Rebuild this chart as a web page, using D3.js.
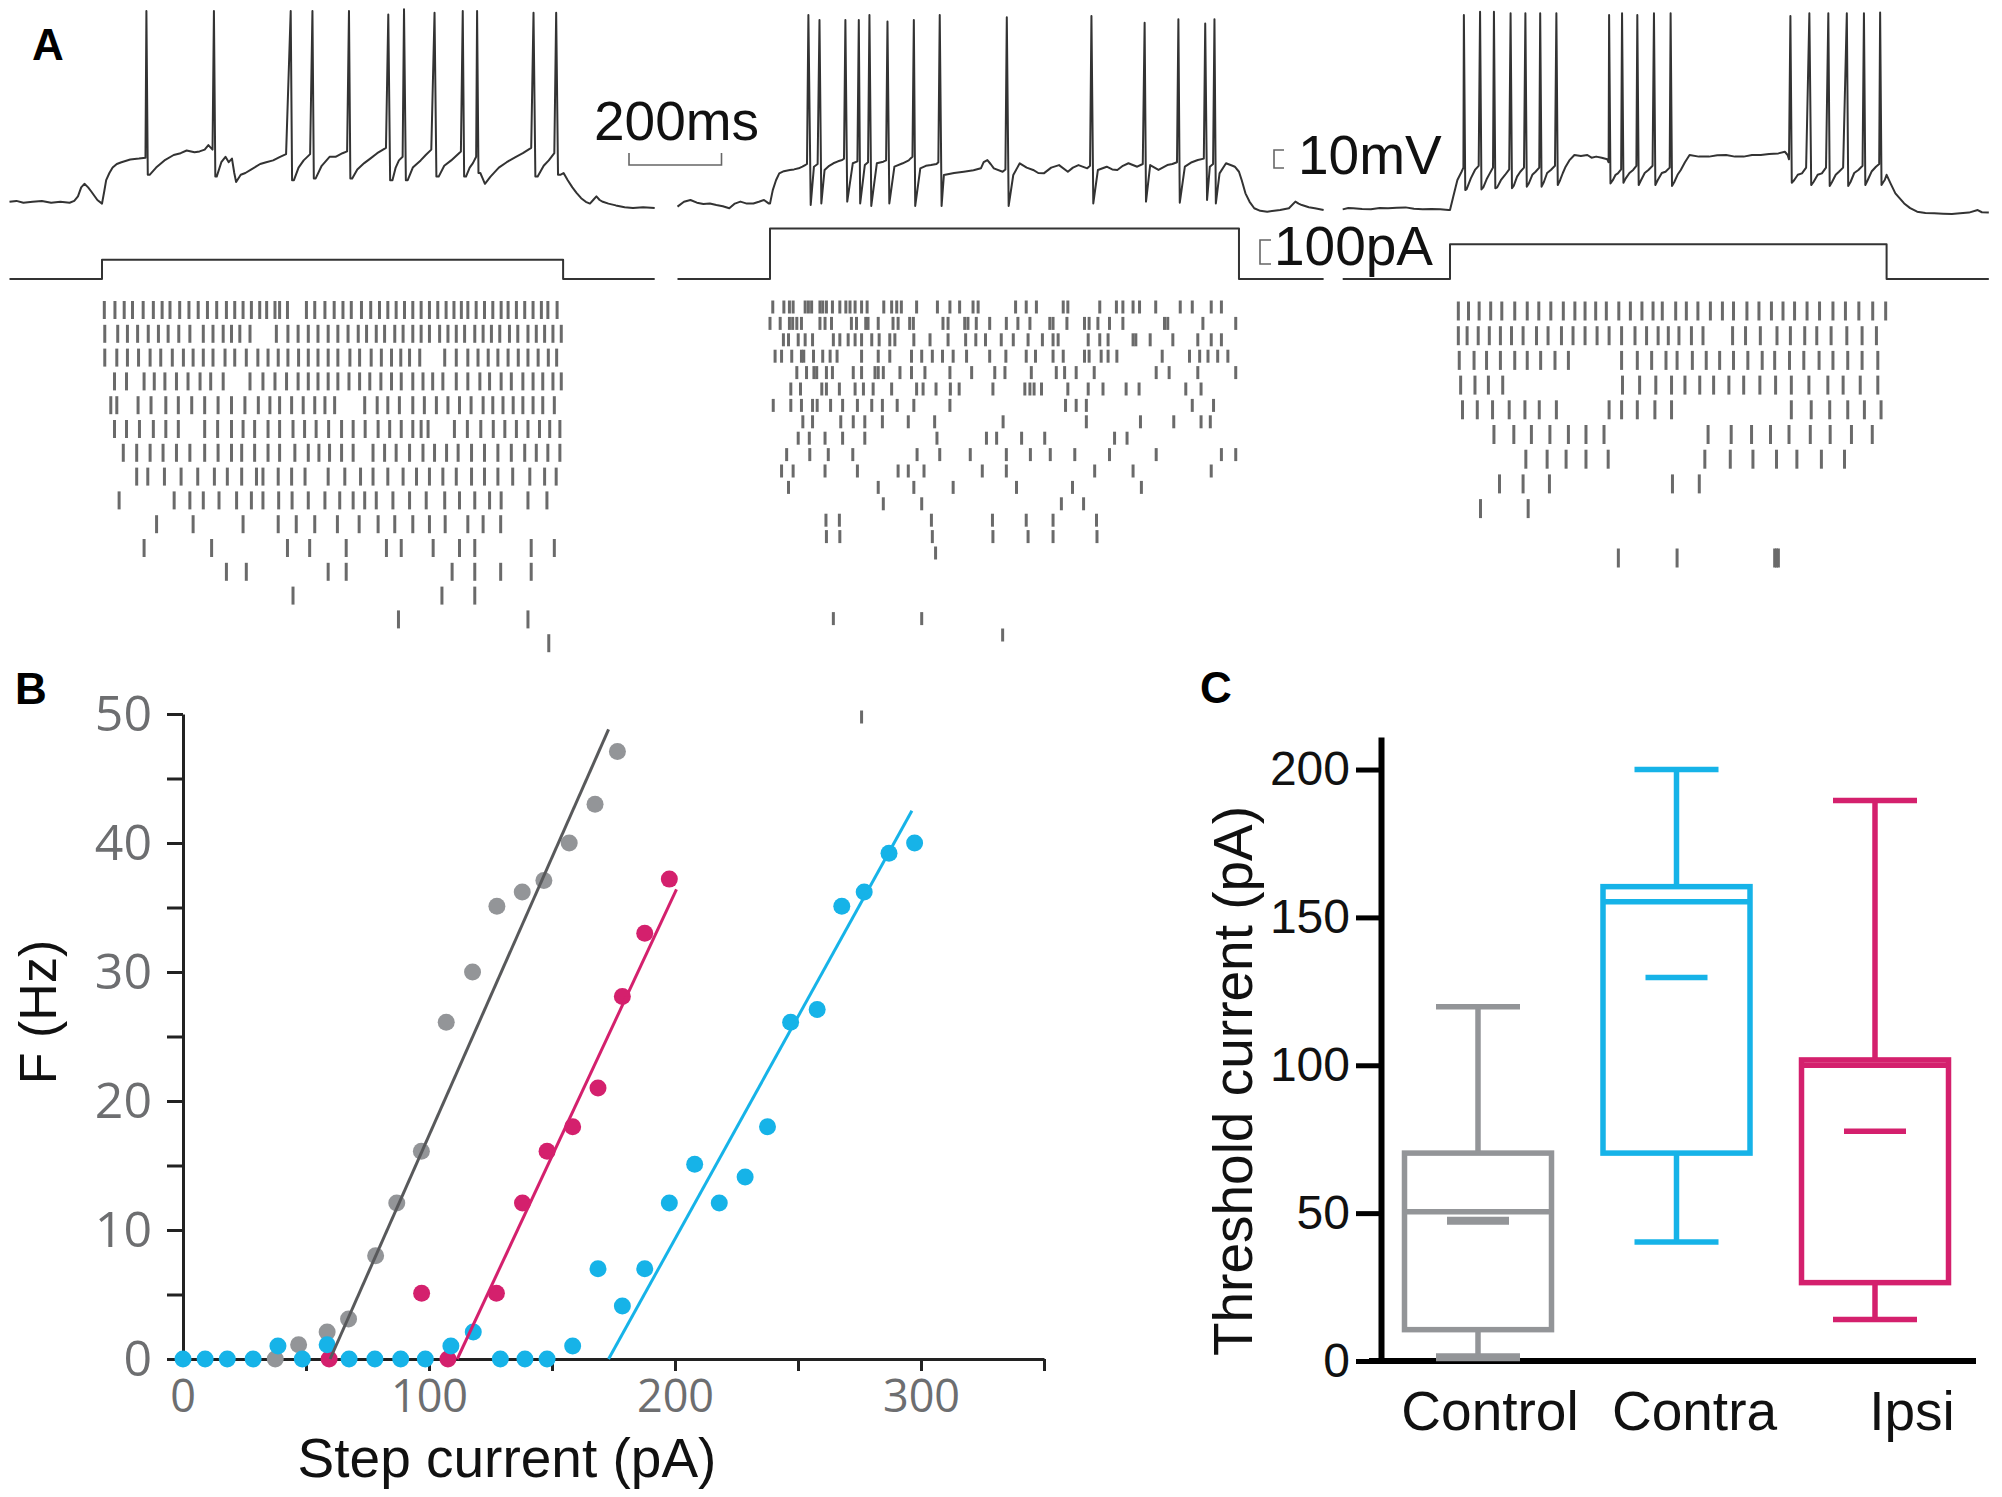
<!DOCTYPE html>
<html lang="en">
<head>
<meta charset="UTF-8">
<title>Firing of spinal neurons</title>
<script src="https://d3js.org/d3.v7.min.js"></script>
<style>
  body { margin: 0; background: #fff; }
  svg { display: block; font-family: "Liberation Sans", Arial, sans-serif; }
  .trace { fill: none; stroke: #333; stroke-width: 2; stroke-linejoin: round; }
  .spike { stroke: #6a6a6a; stroke-width: 3; }
  .panel-label { font-weight: bold; font-size: 44px; fill: #000; }
  .bar { fill: none; stroke: #666; stroke-width: 1.6; }
  .big { font-size: 55px; fill: #111; }
  .fi-axis text { font-family: "Open Sans", sans-serif; fill: #6d6e70; }
  .fi-axis line, .fi-axis path { stroke: #222; stroke-width: 3; }
  .th-axis text { fill: #111; font-size: 48px; }
  .th-axis line { stroke: #000; stroke-width: 5; }
</style>
</head>
<body>
<script>
// ---------- A: voltage traces (ms from step onset, mV) ----------
var trace1Vm = [[-200,-66],[-185,-65.5],[-170,-66.5],[-150,-66],[-130,-65.5],[-110,-66.5],[-90,-66],[-70,-66.5],[-60,-65.5],[-52,-63],[-45,-58],[-38,-56],[-30,-58],[-24,-60],[-10,-65],[0,-67],[5,-60],[9,-54],[16,-50],[23,-47],[32,-45],[42,-44],[61,-42.5],[80,-42],[94,-41.5],[96,40],[99,-51],[103,-51],[117,-47],[135,-43],[155,-40],[170,-39],[183,-37.5],[200,-38.5],[211,-38],[222,-37],[230,-34.5],[239,-37],[242,40],[245,-52],[248,-52],[258,-44],[267,-41],[274,-44],[281,-42],[286,-50],[290,-55],[300,-51],[310,-50],[323,-48],[342,-45],[355,-44],[370,-43],[385,-41],[398,-39.5],[408,40],[411,-54],[415,-54],[425,-47],[436,-43],[450,-39.5],[455,40],[458,-53],[462,-53],[475,-46],[492,-41],[505,-41],[520,-39],[530,-38],[534,40],[537,-53],[541,-53],[552,-48],[567,-44.5],[580,-42],[595,-39],[614,-36],[619,38],[623,-54],[628,-54],[635,-47],[642,-43],[650,-41],[653,41],[657,-54],[661,-54],[672,-47],[689,-43],[700,-40],[712,-37],[719,39],[723,-52],[728,-52],[740,-46],[755,-43],[776,-38],[780,40],[783,-52],[787,-52],[795,-47],[802,-44.5],[809,-41],[811,40],[814,-50],[818,-50],[823,-53],[828,-56],[840,-52],[858,-47],[875,-44],[895,-41],[910,-39],[928,-36],[933,39],[937,-52],[942,-52],[955,-46],[966,-43],[978,-39],[982,39],[986,-51],[991,-51],[998,-50],[1007,-54],[1017,-58],[1026,-61],[1036,-64],[1046,-66],[1055,-67],[1062,-65],[1069,-63],[1076,-65],[1083,-66],[1095,-67],[1111,-68],[1130,-69],[1148,-69.5],[1170,-69],[1195,-69.5]];

var trace2Vm = [[-200,-68.7],[-186,-66],[-172,-65],[-158,-66.5],[-144,-67.2],[-130,-67],[-116,-67.8],[-102,-68.5],[-88,-69.6],[-76,-67],[-64,-65.9],[-50,-67],[-36,-66.9],[-24,-66],[-13,-65],[-3,-66.9],[0,-67],[6,-59.5],[13,-54],[20,-50.2],[30,-49],[43,-48.3],[52,-48],[62,-47.4],[70,-46.5],[76,-45.6],[80,-45],[83,37.8],[88,-67.8],[95,-46.5],[103,-45],[107,35],[111,-66.9],[118,-48.3],[128,-46],[137,-44.6],[147,-43.5],[156,-42.8],[160,-42],[163,35],[167,-65.9],[179,-44.6],[189,-43.5],[192,35],[195,-66.9],[205,-45.6],[212,-44],[215,37.8],[219,-68.3],[231,-44.6],[245,-43.7],[251,-43],[254,34.1],[258,-66.9],[269,-46.5],[287,-44.6],[300,-43],[304,-41.9],[308,-41],[311,35],[314,-68.3],[325,-47.4],[337,-46],[348,-45.6],[360,-45],[364,-44],[367,37.8],[371,-68.3],[376,-51.1],[398,-50],[419,-49.3],[440,-48.5],[456,-47.4],[462,-44],[470,-42.8],[477,-45],[484,-47.4],[503,-49.3],[509,-48],[512,36.5],[516,-68.3],[526,-51.1],[540,-44.6],[555,-47],[569,-48.3],[580,-50],[592,-50.2],[608,-47],[625,-45.6],[644,-49.3],[655,-47],[667,-45.6],[686,-47.4],[692,-46],[695,37.2],[699,-66.9],[709,-48.3],[728,-46.5],[740,-48],[751,-48.3],[763,-46],[775,-44.6],[794,-46.5],[806,-45],[810,33.5],[813,-65.9],[822,-45.6],[840,-48.3],[859,-45.6],[870,-45],[880,-44],[883,35.4],[886,-66.5],[897,-46.5],[912,-44],[925,-42.8],[938,-42],[941,33.1],[945,-65],[951,-46.5],[958,-45],[961,35.4],[964,-66.9],[972,-50.2],[986,-44.6],[1000,-46],[1005,-46.5],[1014,-49.3],[1020,-54],[1028,-61.3],[1037,-66],[1047,-69.6],[1060,-71],[1075,-71.5],[1090,-71],[1103,-70.6],[1122,-69.6],[1136,-65.9],[1143,-67],[1150,-67.8],[1165,-69],[1178,-69.6],[1197,-70.6]];

var trace3Vm = [[-232,-70.2],[-220,-69.5],[-209,-69.6],[-190,-70],[-171,-70.2],[-152,-69.5],[-134,-69.6],[-115,-69.3],[-96,-69.1],[-78,-69.8],[-59,-70.2],[-40,-70],[-21,-70.2],[-3,-70.6],[0,-70.6],[7,-63.2],[16,-53.9],[25,-49.3],[29,-47],[30,37.8],[33,-59.5],[36,-59],[45,-53],[54,-48.3],[62,-46],[65,39.6],[68,-59.1],[72,-58],[80,-53],[86,-50.2],[93,-47],[95,39.6],[98,-58.5],[102,-58],[110,-54],[119,-51.1],[128,-48],[131,38.7],[134,-58.5],[138,-57],[145,-52],[152,-49.3],[160,-47],[163,38.7],[166,-57.6],[170,-56],[178,-51],[185,-49.3],[193,-47],[195,38.7],[198,-57.6],[203,-55],[210,-50],[218,-48.3],[227,-46],[230,38.7],[233,-56.7],[238,-54],[244,-50],[250,-46.5],[258,-43],[269,-40],[283,-40.5],[297,-40],[306,-41.5],[316,-40.9],[328,-41.5],[340,-42.4],[343,-44],[344,37.8],[347,-55.8],[352,-54],[358,-51],[363,-50.2],[370,-48],[372,38.7],[375,-55.4],[380,-53],[388,-50],[396,-48.3],[403,-46],[405,37.8],[408,-56.7],[413,-54],[421,-50],[429,-48.3],[438,-46],[441,38.7],[444,-56.7],[449,-54],[458,-50],[466,-49.3],[475,-47],[477,38.7],[480,-57.2],[485,-55],[492,-51],[499,-48.3],[508,-44],[518,-40],[538,-40.9],[560,-40.9],[578,-40.2],[597,-40],[616,-40.9],[635,-40.9],[653,-40],[672,-40],[690,-39.5],[710,-39.1],[724,-38.2],[730,-40],[733,-42.4],[736,37.2],[739,-55.4],[744,-54],[752,-51],[761,-50.2],[770,-47],[777,38.7],[781,-56.7],[786,-55],[795,-51],[804,-50.2],[813,-47],[818,38.7],[821,-57.2],[826,-55],[834,-51],[841,-49.3],[850,-47],[858,38.7],[861,-57.2],[866,-55],[874,-50],[883,-48.3],[892,-46],[895,38.7],[898,-56.7],[903,-54],[912,-49],[921,-46.5],[928,-45],[930,39.1],[933,-56.7],[937,-55],[940,-53.9],[944,-51],[953,-56],[963,-61.3],[972,-64],[982,-66.9],[995,-69.5],[1010,-71.5],[1028,-72.2],[1047,-72.4],[1066,-72.6],[1085,-72.8],[1103,-72.4],[1122,-72],[1141,-70.6],[1150,-71.8],[1165,-72]];

// current steps: amplitude (pA), duration (ms), recording window (ms)
var stepAmp = [80, 210, 145];
var stepDur = [997, 1014, 944];
var traceWindow = [[-200, 1195], [-200, 1197], [-232, 1165]];

// raster spike times (ms from step onset), one array per sweep
var raster1 = [
  [5,28,48,66,89,111,130,147,168,188,208,228,248,269,287,305,323,341,356,374,384,401,442,460,482,502,521,539,561,581,600,618,636,654,672,690,708,726,744,761,777,791,809,827,845,863,878,896,914,932,950,964,984],
  [6,34,55,77,100,122,143,166,190,219,240,262,280,298,320,377,402,424,446,467,489,510,532,554,572,593,611,633,651,672,690,708,730,748,766,784,806,824,842,860,881,899,921,939,957,975,993],
  [6,32,55,79,104,127,152,176,197,219,240,266,287,312,337,359,381,402,425,446,467,489,510,536,557,582,604,626,646,665,687,741,766,791,813,835,856,878,900,921,943,965,983],
  [27,53,91,113,136,161,186,212,235,262,320,348,374,399,424,446,467,489,510,534,557,579,603,626,647,672,694,715,737,766,791,817,838,863,885,910,932,953,975,993],
  [19,32,78,106,138,165,194,222,251,280,309,338,363,384,410,435,460,482,503,568,595,618,643,672,697,723,748,773,798,824,845,867,889,910,932,953,978],
  [27,53,81,111,138,165,222,250,280,305,330,359,384,413,438,463,490,518,543,569,597,622,647,672,690,705,762,790,819,846,871,896,921,946,968,990],
  [46,75,104,132,161,190,222,251,280,302,330,359,384,417,446,469,492,518,543,586,611,636,665,694,719,745,770,799,827,856,885,914,939,964,990],
  [75,99,135,171,207,243,271,302,334,348,381,410,439,489,525,559,586,618,651,680,708,737,766,799,827,856,888,925,957,982],
  [37,156,190,219,253,291,323,348,382,411,446,482,514,543,568,593,629,665,701,741,773,806,838,863,921,962],
  [118,197,305,381,420,460,509,556,597,633,672,708,742,791,824,862],
  [91,237,401,449,528,615,647,716,773,806,928,978],
  [269,312,489,528,757,806,862,928],
  [413,735,806],
  [641,921],
  [966]
];

var raster2 = [
  [6,30,42,50,76,83,90,108,114,122,135,151,164,173,184,198,210,246,263,274,284,317,362,389,410,439,450,531,554,576,634,644,713,749,763,785,799,834,887,913,954,976],
  [0,22,42,49,58,68,108,119,133,176,187,207,212,234,266,277,302,310,374,385,421,428,446,475,511,536,562,605,612,642,680,690,709,734,763,853,860,936,1007],
  [29,40,61,76,92,137,151,169,184,198,220,236,259,270,311,346,385,423,445,466,500,526,558,589,612,623,688,713,731,785,791,822,871,925,954,976],
  [11,25,47,68,73,94,114,130,145,198,234,259,306,328,351,373,396,425,475,510,554,574,612,634,680,690,716,731,750,848,907,929,947,968,990],
  [58,79,95,101,122,135,180,198,227,234,245,281,306,335,389,436,486,508,565,619,637,662,701,835,863,925,1007],
  [45,66,112,122,150,184,202,223,263,317,331,359,390,409,482,551,562,571,587,644,688,720,770,798,899,932],
  [7,45,68,92,102,131,157,189,220,243,275,311,389,639,662,684,913,959],
  [71,92,153,180,205,243,299,356,504,684,801,873,932,952],
  [61,85,119,157,205,361,468,490,544,594,745,772],
  [36,86,126,179,318,367,433,511,563,606,659,734,835,976,1007],
  [25,50,119,189,277,299,333,459,511,702,785,954],
  [40,234,311,396,533,654,803],
  [245,328,630,678],
  [121,150,349,481,554,612,706],
  [122,151,351,482,558,612,707],
  [358],
  [], [], [],
  [137,328],
  [503],
  [], [], [], [],
  [198]
];

var raster3 = [
  [18,40,63,88,112,140,167,192,218,245,270,292,315,338,365,390,415,439,459,488,511,536,563,589,613,642,668,695,720,745,772,799,828,855,884,914,942],
  [18,37,61,85,109,133,158,187,212,241,266,292,318,344,371,400,425,450,472,495,522,547,611,639,671,707,736,767,793,824,858,891,922],
  [20,52,79,109,140,167,196,227,256,371,405,436,467,491,524,554,583,613,644,675,702,734,765,798,828,860,891,925],
  [23,54,83,114,373,410,445,479,508,540,570,603,635,670,704,738,776,817,850,887,925],
  [27,59,92,128,162,193,230,344,371,405,443,479,738,781,821,860,896,932],
  [95,138,176,216,256,294,333,558,608,652,693,733,779,822,868,913],
  [164,210,251,294,342,551,606,655,706,750,803,853],
  [107,158,215,481,539],
  [66,169],
  [],
  [364,491,702,706,710]
];

// ---------- B: f-I relation (pA, Hz) ----------
var fiControl = [[37.5,0],[47,1.1],[58.6,2.1],[67.3,3.1],[78.3,8],[86.9,12.1],[96.9,16.1],[107,26.1],[117.7,30],[127.6,35.1],[137.9,36.2],[146.7,37.1],[157,40],[167.5,43],[176.6,47.1]];
var fiIpsi = [[59.4,0],[97,5.1],[107.7,0],[127.4,5.1],[138,12.1],[148,16.1],[158.4,18],[168.7,21],[178.6,28.1],[187.7,33],[197.7,37.2]];
var fiContra = [[0,0],[9,0],[18,0],[28.5,0],[38.6,1],[48.5,0],[58.6,1.1],[67.5,0],[78,0],[88.5,0],[98.5,0],[108.9,1],[118,2.1],[129,0],[139,0],[148,0],[158.4,1],[168.7,7],[178.6,4.1],[187.7,7],[197.7,12.1],[208,15.1],[218,12.1],[228.5,14.1],[237.6,18],[247,26.1],[257.8,27.1],[267.8,35.1],[276.9,36.2],[287,39.2],[297.4,40]];
var fitControl = [[59.8,0],[173,48.8]];
var fitIpsi = [[111.5,0],[200.6,36.4]];
var fitContra = [[173,0],[296.3,42.5]];

// ---------- C: threshold current box plots (pA) ----------
var groups = ["Control", "Contra", "Ipsi"];
var q1 = [10.6, 70.3, 26.5];
var medians = [50.5, 155.3, 100];
var q3 = [70.3, 160.4, 101.8];
var whiskLow = [1.3, 40.2, 14];
var whiskHigh = [119.8, 200, 189.5];
var means = [47.4, 129.7, 77.7];

var width = 2002, height = 1497;
var svg = d3.select("body").append("svg")
  .attr("width", width).attr("height", height);
svg.append("rect").attr("width", width).attr("height", height).attr("fill", "#fff");

// ================= Panel A =================
var msPx = 0.4625;             // px per ms, shared by the three recordings
var stepX = [102, 770, 1450];  // x of step onset for each recording
var vm = d3.scaleLinear().domain([-65, 35]).range([200, 20]);
var pa = d3.scaleLinear().domain([0, 100]).range([279, 255]);

var traces = [trace1Vm, trace2Vm, trace3Vm];
var rasters = [raster1, raster2, raster3];
var rasterTop = [310, 307, 311], rasterGap = [23.8, 16.4, 24.7], rasterTick = [18, 13, 19];

traces.forEach(function(tr, i) {
  var tx = d3.scaleLinear().domain([0, 1000]).range([stepX[i], stepX[i] + 1000 * msPx]);
  var line = d3.line().x(function(d) { return tx(d[0]); });

  svg.append("path").attr("class", "trace")
    .attr("d", line.y(function(d) { return vm(d[1]); })(tr));

  var w = traceWindow[i];
  var cur = [[w[0], 0], [0, 0], [0, stepAmp[i]], [stepDur[i], stepAmp[i]], [stepDur[i], 0], [w[1], 0]];
  svg.append("path").attr("class", "trace").attr("stroke-width", 1.8)
    .attr("d", line.y(function(d) { return pa(d[1]); })(cur));

  var g = svg.append("g");
  rasters[i].forEach(function(row, r) {
    var yc = rasterTop[i] + r * rasterGap[i];
    g.selectAll(null).data(row).enter().append("line")
      .attr("class", "spike")
      .attr("x1", function(t) { return tx(t); }).attr("x2", function(t) { return tx(t); })
      .attr("y1", yc - rasterTick[i] / 2).attr("y2", yc + rasterTick[i] / 2);
  });
});

// scale bars
var bx = 629, by = 165;
svg.append("path").attr("class", "bar")
  .attr("d", "M" + bx + "," + (by - 12) + "V" + by + "H" + (bx + 200 * msPx) + "V" + (by - 12));
svg.append("text").attr("class", "big").attr("x", 594).attr("y", 140).text("200ms");

var mvTop = vm(-65) - 32;
svg.append("path").attr("class", "bar")
  .attr("d", "M1284," + (vm(-55) - 32) + "H1274V" + mvTop + "H1284");
svg.append("text").attr("class", "big").attr("x", 1298).attr("y", 174).text("10mV");

svg.append("path").attr("class", "bar")
  .attr("d", "M1271," + (pa(100) - 15) + "H1260V" + (pa(0) - 15) + "H1271");
svg.append("text").attr("class", "big").attr("x", 1274).attr("y", 265).text("100pA");

svg.append("text").attr("class", "panel-label").attr("x", 32).attr("y", 60).text("A");

// ================= Panel B =================
var fx = d3.scaleLinear().domain([0, 350]).range([183, 1044]);
var fy = d3.scaleLinear().domain([0, 50]).range([1359, 714]);

svg.append("g").attr("class", "fi-axis")
  .attr("transform", "translate(" + fx(0) + ",0)")
  .call(d3.axisLeft(fy).tickValues(d3.range(0, 51, 5)).tickSize(16).tickSizeOuter(0).tickPadding(15)
    .tickFormat(function(d) { return d % 10 === 0 ? d : ""; }))
  .selectAll("text").style("font-size", "50px");

svg.append("g").attr("class", "fi-axis")
  .attr("transform", "translate(0," + fy(0) + ")")
  .call(d3.axisBottom(fx).tickValues(d3.range(50, 351, 50)).tickSize(12).tickSizeOuter(0).tickPadding(9)
    .tickFormat(function(d) { return d % 100 === 0 ? d : ""; }))
  .selectAll("text").style("font-size", "45px");
svg.append("text").attr("x", fx(0)).attr("y", fy(0) + 21).attr("dy", "0.71em")
  .attr("text-anchor", "middle").style("font-family", "Open Sans").style("font-size", "45px")
  .attr("fill", "#6d6e70").text("0");

var fiSets = [
  { pts: fiControl, fit: fitControl, dot: "#939598", line: "#58595b" },
  { pts: fiIpsi, fit: fitIpsi, dot: "#d4206d", line: "#d4206d" },
  { pts: fiContra, fit: fitContra, dot: "#16b3e8", line: "#16b3e8" }
];
fiSets.forEach(function(s) {
  svg.append("g").selectAll("circle").data(s.pts).enter().append("circle")
    .attr("cx", function(d) { return fx(d[0]); })
    .attr("cy", function(d) { return fy(d[1]); })
    .attr("r", 8.5).attr("fill", s.dot);
});
fiSets.forEach(function(s) {
  svg.append("path").attr("fill", "none").attr("stroke", s.line).attr("stroke-width", 3)
    .attr("d", d3.line().x(function(d) { return fx(d[0]); }).y(function(d) { return fy(d[1]); })(s.fit));
});

svg.append("text").attr("class", "big").attr("text-anchor", "middle")
  .attr("x", 507).attr("y", 1477).text("Step current (pA)");
svg.append("text").attr("class", "big").attr("text-anchor", "middle")
  .attr("transform", "translate(56,1012) rotate(-90)").style("font-size", "52px").text("F (Hz)");
svg.append("text").attr("class", "panel-label").attr("x", 15).attr("y", 704).text("B");

// ================= Panel C =================
var cy = d3.scaleLinear().domain([0, 211]).range([1361, 737]);
var cx = d3.scalePoint().domain(groups).range([1478, 1875]);
var boxColors = ["#939598", "#16b3e8", "#d4206d"];
var boxW = 147, capW = 84, meanW = 62;
var meanStroke = [8, 5.5, 5.5];

svg.append("g").attr("class", "th-axis")
  .attr("transform", "translate(1381,0)")
  .call(d3.axisLeft(cy).tickValues([0, 50, 100, 150, 200]).tickSize(25).tickPadding(6).tickSizeOuter(0))
  .select(".domain").attr("stroke", "#000").attr("stroke-width", 6);
svg.append("line").attr("x1", 1369).attr("x2", 1976).attr("y1", cy(0)).attr("y2", cy(0))
  .attr("stroke", "#000").attr("stroke-width", 6);

groups.forEach(function(gname, i) {
  var c = cx(gname), col = boxColors[i];
  var g = svg.append("g").attr("stroke", col).attr("stroke-width", 5.5).attr("fill", "none");
  g.append("line").attr("x1", c).attr("x2", c).attr("y1", cy(q3[i])).attr("y2", cy(whiskHigh[i]));
  g.append("line").attr("x1", c).attr("x2", c).attr("y1", cy(q1[i])).attr("y2", cy(whiskLow[i]));
  g.append("line").attr("x1", c - capW / 2).attr("x2", c + capW / 2).attr("y1", cy(whiskHigh[i])).attr("y2", cy(whiskHigh[i]));
  g.append("line").attr("x1", c - capW / 2).attr("x2", c + capW / 2).attr("y1", cy(whiskLow[i])).attr("y2", cy(whiskLow[i]))
    .attr("stroke-width", i === 0 ? 8 : 5.5);
  g.append("rect").attr("x", c - boxW / 2).attr("width", boxW)
    .attr("y", cy(q3[i])).attr("height", cy(q1[i]) - cy(q3[i])).attr("fill", "#fff");
  g.append("line").attr("x1", c - boxW / 2).attr("x2", c + boxW / 2).attr("y1", cy(medians[i])).attr("y2", cy(medians[i]));
  g.append("line").attr("x1", c - meanW / 2).attr("x2", c + meanW / 2)
    .attr("y1", cy(means[i])).attr("y2", cy(means[i])).attr("stroke-width", meanStroke[i]);
});

var labelNudge = [12, 18, 37];
svg.append("g").selectAll("text").data(groups).enter().append("text")
  .attr("class", "big").attr("text-anchor", "middle")
  .attr("x", function(d, i) { return cx(d) + labelNudge[i]; })
  .attr("y", 1430).text(function(d) { return d; });

svg.append("text").attr("class", "big").attr("text-anchor", "middle")
  .attr("transform", "translate(1252,1081) rotate(-90)").text("Threshold current (pA)");
svg.append("text").attr("class", "panel-label").attr("x", 1200).attr("y", 703).text("C");
</script>
</body>
</html>
